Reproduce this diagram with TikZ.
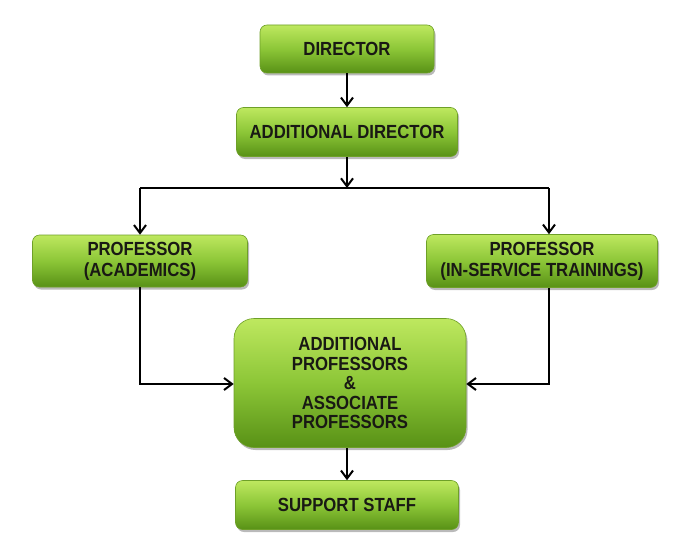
\documentclass[tikz,border=0pt]{standalone}
\usepackage{fontspec}
\setmainfont{Liberation Sans}[FakeStretch=0.88]
\usetikzlibrary{shadows,arrows.meta}
\definecolor{gtop}{RGB}{190,232,95}
\definecolor{gmid}{RGB}{140,198,55}
\definecolor{gbot}{RGB}{88,145,22}
\definecolor{gedge}{RGB}{110,160,40}
\definecolor{txt}{RGB}{25,25,20}
\tikzset{
  box/.style={draw=gedge, line width=0.6pt, rounded corners=7pt,
    top color=gtop, bottom color=gbot, middle color=gmid,
    drop shadow={shadow xshift=1.5pt, shadow yshift=-2.5pt, opacity=0.45, fill=black!60},
    align=center, text=txt, font=\bfseries\fontsize{19}{21}\selectfont, inner sep=2pt},
  conn/.style={line width=2pt, -{Straight Barb[length=8pt,width=12pt,line width=2pt]}},
  plain/.style={line width=2pt}
}
\begin{document}
\begin{tikzpicture}[x=1pt,y=-1pt]
\useasboundingbox (0,0) rectangle (700,559);
\node[box, minimum width=174pt, minimum height=48pt] (dir) at (347,49) {DIRECTOR};
\node[box, minimum width=221pt, minimum height=49pt] (ad) at (347,132) {ADDITIONAL DIRECTOR};
\node[box, minimum width=215pt, minimum height=52pt] (pa) at (140,261) {PROFESSOR\\(ACADEMICS)};
\node[box, minimum width=231pt, minimum height=53pt] (pi) at (542,261) {PROFESSOR\\(IN-SERVICE TRAININGS)};
\node[box, rounded corners=20pt, minimum width=232pt, minimum height=129pt,
  font=\bfseries\fontsize{19}{19.5}\selectfont] (ap) at (350,383) {ADDITIONAL\\PROFESSORS\\\&\\ASSOCIATE\\PROFESSORS};
\node[box, minimum width=223pt, minimum height=49pt] (ss) at (347,505) {SUPPORT STAFF};
\coordinate (j) at (347,188);
\coordinate (jl) at (140,188);
\coordinate (jr) at (549,188);
\coordinate (bl) at (140,384);
\coordinate (br) at (549,384);
\draw[conn] (dir.south) -- (ad.north);
\draw[conn] (ad.south) -- (j);
\draw[plain] (jl) -- (jr);
\draw[conn] (jl) -- (pa.north -| jl);
\draw[conn] (jr) -- (pi.north -| jr);
\draw[conn] (pa.south -| bl) -- (bl) -- (ap.west |- bl);
\draw[conn] (pi.south -| br) -- (br) -- (ap.east |- br);
\draw[conn] (ap.south -| ss.north) -- (ss.north);
\end{tikzpicture}
\end{document}
